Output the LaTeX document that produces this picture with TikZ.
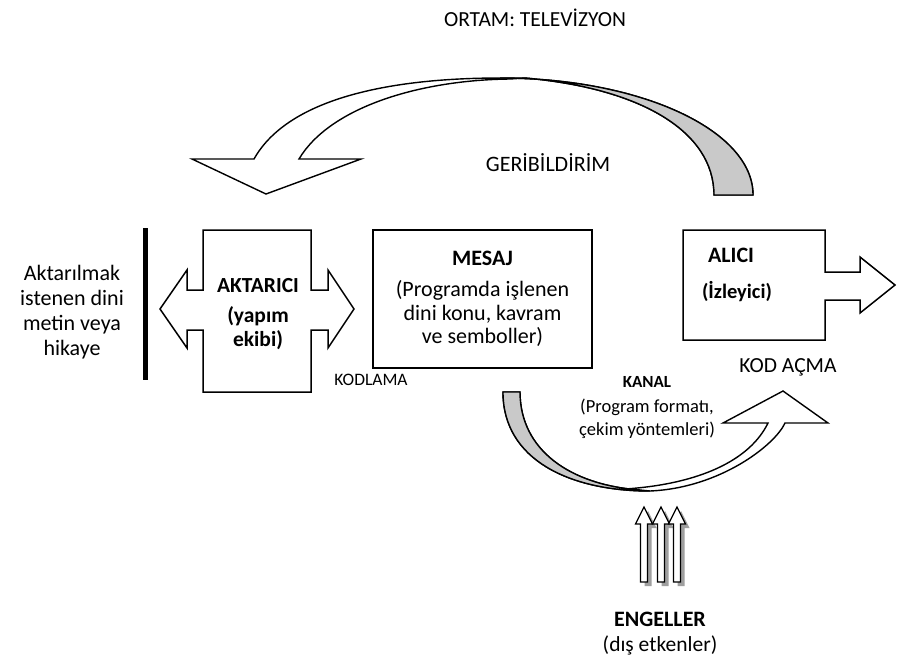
\documentclass[tikz,border=0pt]{standalone}
\usepackage{fontspec}
\setmainfont{Carlito}
\usetikzlibrary{positioning}

\begin{document}
\begin{tikzpicture}[
    x = 1pt, y = -1pt, % pixel grid, y going down
    line width = 1.4pt, % outline style
    line join = miter,
    node distance = 4pt,
    inner sep = 0pt
    ]

    \tikzset{
    box/.style = {draw = black, line width = 1.5pt, fill = white},
    back/.style = {draw = black, line width = 1.4pt, fill = gray!42},
    txt/.style = {font = \fontsize{22}{24}\selectfont, align = center},
    small/.style = {font = \fontsize{18.5}{23}\selectfont, align = center}
    }
    \fill[white] (0,0) rectangle (899,665);
    \useasboundingbox (0,0) rectangle (899,665);

    % title
    \node[txt, font = \fontsize{21.5}{24}\selectfont] (ortam) at (535,18) {ORTAM: TELEVİZYON};

    % feedback arrow (geribildirim)
    \filldraw[box, line width = 1.4pt]
      (254,159) .. controls (290,95) and (400,78) .. (500,78)
      .. controls (640,78) and (753,130) .. (753,195) -- (714,195)
      .. controls (714,131) and (640,88) .. (525,78) -- (510,79)
      .. controls (420,80) and (330,107) .. (299,159)
      -- (361,159) -- (266,194) -- (192,159) -- cycle;
    \filldraw[back]
      (500,78) .. controls (640,78) and (753,130) .. (753,195) -- (714,195)
      .. controls (714,131) and (640,88) .. (525,78) -- cycle;
    \node[txt] (geri) at (548,163) {GERİBİLDİRİM};

    % source text and bar
    \node[txt, font = \fontsize{22}{25}\selectfont] (metin) at (72,312)
      {Aktarılmak\\istenen dini\\metin veya\\hikaye};
    \draw[line width = 5pt] (145,228) -- (145,380);

    % aktarici, double arrow
    \filldraw[box]
      (203,230) -- (311,230) -- (311,290) -- (328,290) -- (328,270) -- (354,309)
      -- (328,348) -- (328,330) -- (311,330) -- (311,392) -- (203,392) -- (203,330)
      -- (187,330) -- (187,348) -- (160,309) -- (187,270) -- (187,290) -- (203,290) -- cycle;
    \node[txt, font = \bfseries\fontsize{21.5}{24}\selectfont] (aktarici) at (258,314)
      {AKTARICI\\[6pt](yapım\\ekibi)};
    \node[txt, font = \fontsize{17.5}{20}\selectfont] (kodlama) at (371,380) {KODLAMA};

    % mesaj
    \node[box, txt, font = \fontsize{22}{23.5}\selectfont, minimum width = 219,
      minimum height = 138] (mesaj) at (482.5,299)
      {\textbf{MESAJ}\\[8pt](Programda işlenen\\dini konu, kavram\\ve semboller)};

    % alici, single arrow
    \filldraw[box]
      (683,230) -- (825,230) -- (825,272) -- (860,272) -- (860,257) -- (895,285)
      -- (860,313) -- (860,300) -- (825,300) -- (825,340) -- (683,340) -- cycle;
    \node[txt, font = \bfseries\fontsize{22}{24}\selectfont] (alici) at (731,255) {ALICI};
    \node[txt, font = \bfseries\fontsize{20.5}{24}\selectfont] (izleyici) at (737,292) {(İzleyici)};
    \node[txt, font = \fontsize{21.5}{24}\selectfont] (kodacma) at (788,367) {KOD AÇMA};

    % kanal arrow
    \filldraw[box, line width = 1.4pt]
      (503,392) .. controls (503,460) and (570,491) .. (650,491)
      .. controls (720,488) and (775,445) .. (785,423)
      -- (828,423) -- (783,391) -- (723,423) -- (768,423)
      .. controls (750,460) and (700,484) .. (625,489) -- (640,490)
      .. controls (570,485) and (520,450) .. (520,392) -- cycle;
    \filldraw[back]
      (503,392) .. controls (503,460) and (570,491) .. (650,491) -- (640,490)
      .. controls (570,485) and (520,450) .. (520,392) -- cycle;
    \node[small, font = \bfseries\fontsize{17}{23}\selectfont] (kanal) at (647,382) {KANAL};
    \node[small] (format) at (647,418.5) {(Program formatı,\\çekim yöntemleri)};

    % engeller, three arrows with shadow
    \foreach \ax in {644,661,677} {
      \fill[gray!75] (\ax+4,511) -- (\ax+12.5,528) -- (\ax+7.5,528) -- (\ax+7.5,586)
        -- (\ax+0.5,586) -- (\ax+0.5,528) -- (\ax-4.5,528) -- cycle;
      \filldraw[box, line width = 1.2pt] (\ax,507) -- (\ax+8.5,524) -- (\ax+3.5,524) -- (\ax+3.5,582)
        -- (\ax-3.5,582) -- (\ax-3.5,524) -- (\ax-8.5,524) -- cycle;
    }
    \node[txt, font = \bfseries\fontsize{22}{24}\selectfont] (engeller) at (660,619) {ENGELLER};
    \node[txt, font = \fontsize{21.5}{24}\selectfont, below = 8pt of engeller] (etken) {(dış etkenler)};
\end{tikzpicture}
\end{document}
